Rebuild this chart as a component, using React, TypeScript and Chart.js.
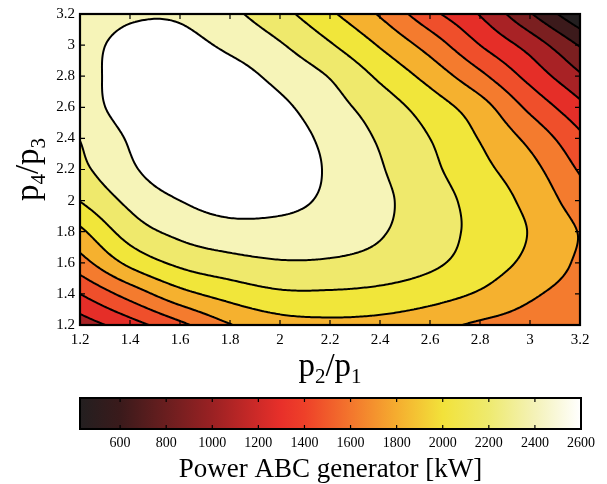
import React, { useEffect, useRef } from 'react';
import { Chart, registerables } from 'chart.js';
Chart.register(...registerables);

const FONT = "'Liberation Serif', 'Times New Roman', serif";

// Grid of the contour data (p2/p1 along x, p4/p3 along y), power in kW
const GRID_X = [1.2, 1.4, 1.6, 1.8, 2.0, 2.2, 2.4, 2.6, 2.8, 3.0, 3.2];
const GRID_Y = [3.2, 3.0, 2.8, 2.6, 2.4, 2.2, 2.0, 1.8, 1.6, 1.4, 1.2]; // rows, top to bottom
const POWER_Y32 = [2270, 2370, 2375, 2260, 2100, 1891, 1661, 1375, 1128, 796, 440];
const POWER_Y30 = [2320, 2460, 2460, 2362, 2236, 2058, 1844, 1605, 1320, 1068, 765];
const POWER_Y28 = [2330, 2480, 2560, 2480, 2347, 2210, 2008, 1796, 1545, 1260, 985];
const POWER_Y26 = [2310, 2480, 2590, 2560, 2440, 2289, 2134, 1955, 1754, 1458, 1190];
const POWER_Y24 = [2225, 2420, 2570, 2600, 2500, 2350, 2200, 2040, 1850, 1631, 1360];
const POWER_Y22 = [2175, 2370, 2530, 2590, 2530, 2375, 2235, 2081, 1911, 1740, 1480];
const POWER_Y20 = [2045, 2262, 2400, 2480, 2460, 2363, 2257, 2122, 1970, 1809, 1585];
const POWER_Y18 = [1820, 2122, 2265, 2330, 2330, 2300, 2235, 2115, 1992, 1851, 1670];
const POWER_Y16 = [1605, 1905, 2080, 2160, 2205, 2200, 2160, 2075, 1956, 1815, 1650];
const POWER_Y14 = [1320, 1574, 1800, 1930, 2010, 2015, 1990, 1930, 1840, 1707, 1605];
const POWER_Y12 = [1040, 1240, 1455, 1670, 1780, 1810, 1795, 1740, 1650, 1600, 1555];

const LEVELS = [600, 780, 960, 1140, 1320, 1500, 1680, 1860, 2040, 2220, 2400];
const BAND_COLORS = [
  '#231f20', '#3c1a1b', '#7b1f20', '#a82225', '#e52e28', '#ef4f2b',
  '#f47b2e', '#f5b12f', '#f1e63a', '#efe96c', '#f6f4b8', '#ffffff',
];

const X_TICKS = [1.2, 1.4, 1.6, 1.8, 2.0, 2.2, 2.4, 2.6, 2.8, 3.0, 3.2];
const Y_TICKS = [1.2, 1.4, 1.6, 1.8, 2.0, 2.2, 2.4, 2.6, 2.8, 3.0, 3.2];

const CBAR_MIN = 426;
const CBAR_MAX = 2600;
const CBAR_TICKS = [600, 800, 1000, 1200, 1400, 1600, 1800, 2000, 2200, 2400, 2600];
const CMAP_VALUES = [426, 600, 800, 1000, 1200, 1300, 1400, 1600, 1800, 2000, 2200, 2400, 2600];
const CMAP_COLORS = [
  '#231f20', '#3a1a1b', '#6a1e1f', '#9a2123', '#cf2a28', '#e8302a', '#ee4029',
  '#f3762d', '#f5ad2f', '#f2e23a', '#eeea6f', '#f4f2b8', '#ffffff',
];

const X_TITLE = [{ t: 'p', sub: false }, { t: '2', sub: true }, { t: '/p', sub: false }, { t: '1', sub: true }];
const Y_TITLE = [{ t: 'p', sub: false }, { t: '4', sub: true }, { t: '/p', sub: false }, { t: '3', sub: true }];
const CBAR_TITLE = 'Power ABC generator [kW]';

const ROWS_TOP_DOWN = [POWER_Y32, POWER_Y30, POWER_Y28, POWER_Y26, POWER_Y24, POWER_Y22,
  POWER_Y20, POWER_Y18, POWER_Y16, POWER_Y14, POWER_Y12];

function gridAt(i: number, j: number): number {
  // j counts rows from bottom; linear extrapolation beyond edges
  const nx = GRID_X.length, ny = GRID_Y.length;
  if (i < 0) return 2 * gridAt(0, j) - gridAt(1, j);
  if (i >= nx) return 2 * gridAt(nx - 1, j) - gridAt(nx - 2, j);
  if (j < 0) return 2 * gridAt(i, 0) - gridAt(i, 1);
  if (j >= ny) return 2 * gridAt(i, ny - 1) - gridAt(i, ny - 2);
  return ROWS_TOP_DOWN[ny - 1 - j][i];
}

function cr(p0: number, p1: number, p2: number, p3: number, t: number) {
  return 0.5 * (2 * p1 + (-p0 + p2) * t + (2 * p0 - 5 * p1 + 4 * p2 - p3) * t * t + (-p0 + 3 * p1 - 3 * p2 + p3) * t * t * t);
}

function field(x: number, y: number): number {
  const x0 = GRID_X[0], dx = GRID_X[1] - GRID_X[0];
  const yMin = GRID_Y[GRID_Y.length - 1], dy = GRID_Y[0] - GRID_Y[1];
  const u = (x - x0) / dx, v = (y - yMin) / dy;
  let i = Math.floor(u), j = Math.floor(v);
  i = Math.max(0, Math.min(GRID_X.length - 2, i));
  j = Math.max(0, Math.min(GRID_Y.length - 2, j));
  const t = u - i, s = v - j;
  const col: number[] = [];
  for (let k = -1; k <= 2; k++) {
    col.push(cr(gridAt(i - 1, j + k), gridAt(i, j + k), gridAt(i + 1, j + k), gridAt(i + 2, j + k), t));
  }
  return cr(col[0], col[1], col[2], col[3], s);
}

function hexToRgb(h: string) {
  const n = parseInt(h.slice(1), 16);
  return [(n >> 16) & 255, (n >> 8) & 255, n & 255];
}

function drawSubText(ctx: CanvasRenderingContext2D, parts: { t: string; sub: boolean }[], cx: number, baseY: number, size: number, subSize: number, shift: number) {
  const widths = parts.map((p) => {
    ctx.font = `${p.sub ? subSize : size}px ${FONT}`;
    return ctx.measureText(p.t).width;
  });
  const total = widths.reduce((a, b) => a + b, 0);
  let x = cx - total / 2;
  ctx.textAlign = 'left';
  ctx.textBaseline = 'alphabetic';
  parts.forEach((p, k) => {
    ctx.font = `${p.sub ? subSize : size}px ${FONT}`;
    ctx.fillText(p.t, x, baseY + (p.sub ? shift : 0));
    x += widths[k];
  });
}

const contourPlugin = {
  id: 'contourFill',
  beforeDatasetsDraw(chart: any) {
    const { ctx, chartArea } = chart;
    const xs = chart.scales.x, ys = chart.scales.y;
    const left = Math.round(chartArea.left), top = Math.round(chartArea.top);
    const w = Math.round(chartArea.right) - left, h = Math.round(chartArea.bottom) - top;
    // filled bands
    const img = ctx.createImageData(w, h);
    const cols = BAND_COLORS.map(hexToRgb);
    for (let py = 0; py < h; py++) {
      const yv = ys.getValueForPixel(top + py + 0.5);
      for (let px = 0; px < w; px++) {
        const xv = xs.getValueForPixel(left + px + 0.5);
        const val = field(xv, yv);
        let b = 0;
        while (b < LEVELS.length && val >= LEVELS[b]) b++;
        const c = cols[b];
        const o = (py * w + px) * 4;
        img.data[o] = c[0]; img.data[o + 1] = c[1]; img.data[o + 2] = c[2]; img.data[o + 3] = 255;
      }
    }
    ctx.putImageData(img, left, top);

    // contour lines via marching squares
    const NX = 250, NY = 158;
    const vals: number[][] = [];
    const pxs: number[] = [], pys: number[] = [];
    for (let a = 0; a <= NX; a++) pxs.push(chartArea.left + (a * (chartArea.right - chartArea.left)) / NX);
    for (let b = 0; b <= NY; b++) pys.push(chartArea.top + (b * (chartArea.bottom - chartArea.top)) / NY);
    for (let b = 0; b <= NY; b++) {
      const row: number[] = [];
      const yv = ys.getValueForPixel(pys[b]);
      for (let a = 0; a <= NX; a++) row.push(field(xs.getValueForPixel(pxs[a]), yv));
      vals.push(row);
    }
    ctx.save();
    ctx.beginPath();
    ctx.rect(chartArea.left, chartArea.top, chartArea.right - chartArea.left, chartArea.bottom - chartArea.top);
    ctx.clip();
    ctx.strokeStyle = '#000';
    ctx.lineWidth = 2;
    ctx.lineCap = 'round';
    ctx.lineJoin = 'round';
    ctx.beginPath();
    for (const L of LEVELS) {
      for (let b = 0; b < NY; b++) {
        for (let a = 0; a < NX; a++) {
          const va = vals[b][a], vb = vals[b][a + 1], vc = vals[b + 1][a + 1], vd = vals[b + 1][a];
          const code = (va >= L ? 8 : 0) | (vb >= L ? 4 : 0) | (vc >= L ? 2 : 0) | (vd >= L ? 1 : 0);
          if (code === 0 || code === 15) continue;
          const x0 = pxs[a], x1 = pxs[a + 1], y0 = pys[b], y1 = pys[b + 1];
          const T = () => [x0 + ((L - va) / (vb - va)) * (x1 - x0), y0];
          const R = () => [x1, y0 + ((L - vb) / (vc - vb)) * (y1 - y0)];
          const B = () => [x0 + ((L - vd) / (vc - vd)) * (x1 - x0), y1];
          const Lf = () => [x0, y0 + ((L - va) / (vd - va)) * (y1 - y0)];
          const segs: number[][][] = [];
          switch (code) {
            case 1: case 14: segs.push([Lf(), B()]); break;
            case 2: case 13: segs.push([B(), R()]); break;
            case 3: case 12: segs.push([Lf(), R()]); break;
            case 4: case 11: segs.push([T(), R()]); break;
            case 6: case 9: segs.push([T(), B()]); break;
            case 7: case 8: segs.push([Lf(), T()]); break;
            case 5: segs.push([Lf(), T()]); segs.push([B(), R()]); break;
            case 10: segs.push([T(), R()]); segs.push([Lf(), B()]); break;
          }
          for (const s of segs) { ctx.moveTo(s[0][0], s[0][1]); ctx.lineTo(s[1][0], s[1][1]); }
        }
      }
    }
    ctx.stroke();
    ctx.restore();
  },
  afterDraw(chart: any) {
    const { ctx, chartArea } = chart;
    const xs = chart.scales.x, ys = chart.scales.y;
    ctx.save();
    ctx.strokeStyle = '#000';
    ctx.lineWidth = 1.2;
    ctx.beginPath();
    for (const v of X_TICKS) {
      const p = xs.getPixelForValue(v);
      ctx.moveTo(p, chartArea.bottom); ctx.lineTo(p, chartArea.bottom - 5);
      ctx.moveTo(p, chartArea.top); ctx.lineTo(p, chartArea.top + 5);
    }
    for (const v of Y_TICKS) {
      const p = ys.getPixelForValue(v);
      ctx.moveTo(chartArea.left, p); ctx.lineTo(chartArea.left + 5, p);
      ctx.moveTo(chartArea.right, p); ctx.lineTo(chartArea.right - 5, p);
    }
    ctx.stroke();
    ctx.lineWidth = 2.2;
    ctx.strokeRect(chartArea.left, chartArea.top, chartArea.right - chartArea.left, chartArea.bottom - chartArea.top);
    ctx.fillStyle = '#000';
    drawSubText(ctx, X_TITLE, (chartArea.left + chartArea.right) / 2, 376, 33, 21, 7);
    ctx.translate(38, (chartArea.top + chartArea.bottom) / 2);
    ctx.rotate(-Math.PI / 2);
    drawSubText(ctx, Y_TITLE, 0, 0, 33, 21, 7);
    ctx.restore();
  },
};

const colorbarPlugin = {
  id: 'colorbar',
  beforeDatasetsDraw(chart: any) {
    const { ctx, chartArea } = chart;
    const xs = chart.scales.x;
    const x0 = xs.getPixelForValue(CBAR_MIN), x1 = xs.getPixelForValue(CBAR_MAX);
    const g = ctx.createLinearGradient(x0, 0, x1, 0);
    CMAP_VALUES.forEach((v, k) => g.addColorStop((v - CBAR_MIN) / (CBAR_MAX - CBAR_MIN), CMAP_COLORS[k]));
    ctx.save();
    ctx.fillStyle = g;
    ctx.fillRect(x0, chartArea.top, x1 - x0, chartArea.bottom - chartArea.top);
    ctx.strokeStyle = '#000';
    ctx.lineWidth = 1.2;
    ctx.beginPath();
    for (const v of CBAR_TICKS) {
      const p = xs.getPixelForValue(v);
      ctx.moveTo(p, chartArea.top); ctx.lineTo(p, chartArea.top + 4);
      ctx.moveTo(p, chartArea.bottom); ctx.lineTo(p, chartArea.bottom - 4);
    }
    ctx.stroke();
    ctx.lineWidth = 2;
    ctx.strokeRect(x0, chartArea.top, x1 - x0, chartArea.bottom - chartArea.top);
    ctx.fillStyle = '#000';
    ctx.font = `27px ${FONT}`;
    ctx.textAlign = 'center';
    ctx.textBaseline = 'alphabetic';
    ctx.fillText(CBAR_TITLE, (x0 + x1) / 2, 87);
    ctx.restore();
  },
};

const fmt = (v: any) => String(Math.round(Number(v) * 10) / 10);

export default function App() {
  const mainRef = useRef<HTMLCanvasElement>(null);
  const barRef = useRef<HTMLCanvasElement>(null);
  useEffect(() => {
    const main = new Chart(mainRef.current as HTMLCanvasElement, {
      type: 'scatter',
      data: { datasets: [{ data: [] }] },
      options: {
        responsive: false,
        animation: false,
        devicePixelRatio: 1,
        layout: { padding: { left: 0, right: 27, top: 10, bottom: 0 } },
        plugins: { legend: { display: false }, tooltip: { enabled: false } },
        scales: {
          x: {
            type: 'linear', min: 1.2, max: 3.2,
            afterBuildTicks: (s: any) => { s.ticks = X_TICKS.map((v) => ({ value: v })); },
            afterFit: (s: any) => { s.height = 65; },
            grid: { display: false, drawTicks: false },
            border: { display: false },
            ticks: { color: '#000', font: { family: FONT, size: 15 }, padding: 6, maxRotation: 0, autoSkip: false, callback: fmt },
          },
          y: {
            type: 'linear', min: 1.2, max: 3.2,
            afterBuildTicks: (s: any) => { s.ticks = Y_TICKS.map((v) => ({ value: v })); },
            afterFit: (s: any) => { s.width = 80; },
            grid: { display: false, drawTicks: false },
            border: { display: false },
            ticks: { color: '#000', font: { family: FONT, size: 15 }, padding: 5, autoSkip: false, callback: fmt },
          },
        },
      } as any,
      plugins: [contourPlugin],
    });
    const bar = new Chart(barRef.current as HTMLCanvasElement, {
      type: 'scatter',
      data: { datasets: [{ data: [] }] },
      options: {
        responsive: false,
        animation: false,
        devicePixelRatio: 1,
        layout: { padding: { left: 80, right: 26, top: 8, bottom: 0 } },
        plugins: { legend: { display: false }, tooltip: { enabled: false } },
        scales: {
          x: {
            type: 'linear', min: CBAR_MIN, max: CBAR_MAX,
            afterBuildTicks: (s: any) => { s.ticks = CBAR_TICKS.map((v) => ({ value: v })); },
            afterFit: (s: any) => { s.height = 55; },
            grid: { display: false, drawTicks: false },
            border: { display: false },
            ticks: { color: '#000', font: { family: FONT, size: 14 }, padding: 6, maxRotation: 0, autoSkip: false, callback: (v: any) => String(Math.round(Number(v))) },
          },
          y: { display: false, min: 0, max: 1 },
        },
      } as any,
      plugins: [colorbarPlugin],
    });
    return () => { main.destroy(); bar.destroy(); };
  }, []);
  return (
    <div style={{ position: 'absolute', left: 0, top: 0, width: 607, height: 484, background: '#fff' }}>
      <canvas ref={mainRef} width={607} height={390} style={{ display: 'block' }} />
      <canvas ref={barRef} width={607} height={94} style={{ display: 'block' }} />
    </div>
  );
}
